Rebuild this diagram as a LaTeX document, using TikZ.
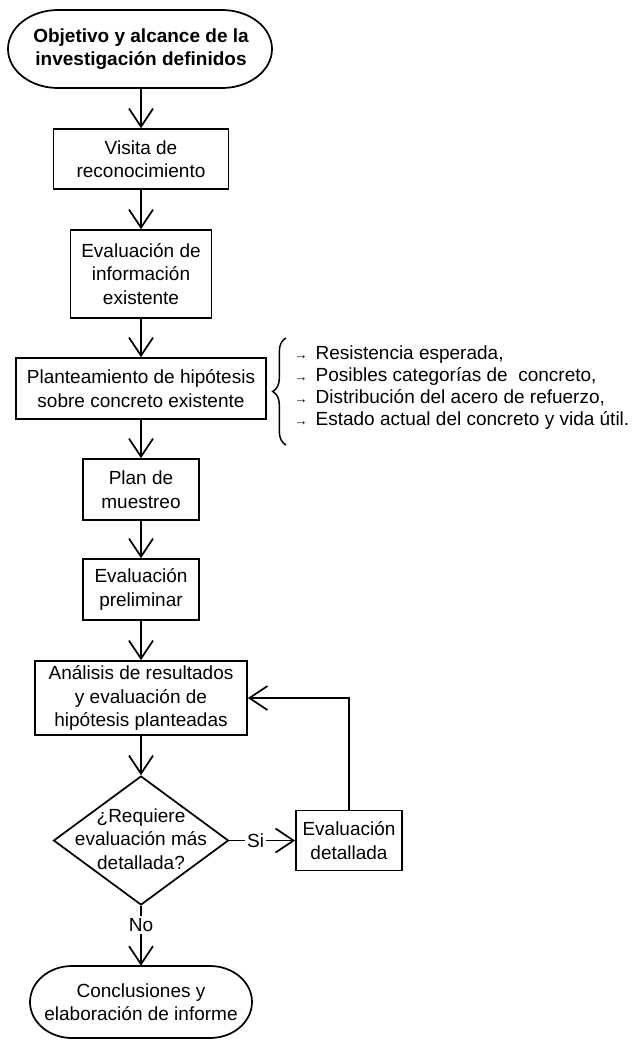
\documentclass[tikz,border=0pt]{standalone}
\usepackage{fontspec}
\setmainfont{Liberation Sans}
\usetikzlibrary{arrows.meta,shapes.geometric,decorations.pathreplacing}
\newcommand\stadiumpath[5]{%
 \pgfmathsetmacro\stCy{(#2+#4)/2}\pgfmathsetmacro\stRy{(#4-#2)/2}%
 \pgfmathsetmacro\stXa{#1+#5}\pgfmathsetmacro\stXb{#3-#5}%
 \pgfmathsetmacro\stKx{0.5523*#5}\pgfmathsetmacro\stKy{0.5523*\stRy}%
 \draw[outline] (\stXa,#2) -- (\stXb,#2)
   .. controls ({\stXb+\stKx},#2) and (#3,{\stCy-\stKy}) .. (#3,\stCy)
   .. controls (#3,{\stCy+\stKy}) and ({\stXb+\stKx},#4) .. (\stXb,#4)
   -- (\stXa,#4)
   .. controls ({\stXa-\stKx},#4) and (#1,{\stCy+\stKy}) .. (#1,\stCy)
   .. controls (#1,{\stCy-\stKy}) and ({\stXa-\stKx},#2) .. (\stXa,#2) -- cycle;}
\newcommand\listarrow{{\fontsize{10}{10}\selectfont →}\hspace{6pt}}
\begin{document}
\begin{tikzpicture}[x=0.75pt,y=-0.75pt,
  every node/.style={font=\fontsize{14.25}{17.6}\selectfont, align=center, inner sep=0pt},
  outline/.style={draw=black, line width=1.3pt},
  wh/.style 2 args={minimum width=#1*0.75pt, minimum height=#2*0.75pt},
  box/.style={rectangle, outline},
  term/.style={rectangle},
  arr/.style={line width=1.3pt, -{Straight Barb[length=13.5pt,width=18pt]}},
  lbl/.style={fill=white, inner sep=1.5pt}]
\useasboundingbox (0,0) rectangle (641,1040);

% terminals (outlines)
\stadiumpath{8}{10}{272}{88}{50}
\stadiumpath{30}{966}{252}{1038}{42}
\node[term, wh={264}{78}, font=\fontsize{14.25}{17.6}\selectfont\bfseries] (t1) at (141,49) {Objetivo y alcance de la\\investigación definidos};
\node[term, wh={222}{72}] (t2) at (141,1002) {Conclusiones y\\elaboración de informe};

% process boxes
\node[box, wh={175}{60}] (v) at (141,159) {Visita de\\reconocimiento};
\node[box, wh={141}{88}] (ei) at (141,274) {Evaluación de\\información\\existente};
\node[box, wh={250}{61}] (ph) at (141,388.5) {Planteamiento de hipótesis\\sobre concreto existente};
\node[box, wh={116}{61}] (pm) at (141,489.5) {Plan de\\muestreo};
\node[box, wh={116}{61}] (ep) at (141,589.5) {Evaluación\\preliminar};
\node[box, wh={212}{74}] (an) at (141,698) {Análisis de resultados\\y evaluación de\\hipótesis planteadas};
\node[diamond, outline, aspect=1.357, wh={175}{129}] (d) at (141,840.5) {};
\node (dt) at (141,839) {¿Requiere\\evaluación más\\detallada?};
\node[box, wh={106}{60}] (ed) at (349,840.5) {Evaluación\\detallada};

% list with brace
\coordinate (bb) at (286,445);
\coordinate (bt) at (286,338);
\draw[line width=1.1pt, decorate, decoration={brace, amplitude=10pt}] (bb) -- (bt);
\node[anchor=west, align=left, font=\fontsize{14.25}{16.5}\selectfont] (lst) at (294,388) {%
\listarrow Resistencia esperada,\\
\listarrow Posibles categorías de\ \ concreto,\\
\listarrow Distribución del acero de refuerzo,\\
\listarrow Estado actual del concreto y vida útil.};

% connectors
\draw[arr] (t1) -- (v);
\draw[arr] (v) -- (ei);
\draw[arr] (ei) -- (ph);
\draw[arr] (ph) -- (pm);
\draw[arr] (pm) -- (ep);
\draw[arr] (ep) -- (an);
\draw[arr] (an) -- (d);
\draw[arr] (d) -- node[lbl, pos=0.4] {Si} (ed);
\draw[arr] (d) -- node[lbl, pos=0.32] {No} (t2);
\draw[arr] (ed) |- (an);
\end{tikzpicture}
\end{document}
